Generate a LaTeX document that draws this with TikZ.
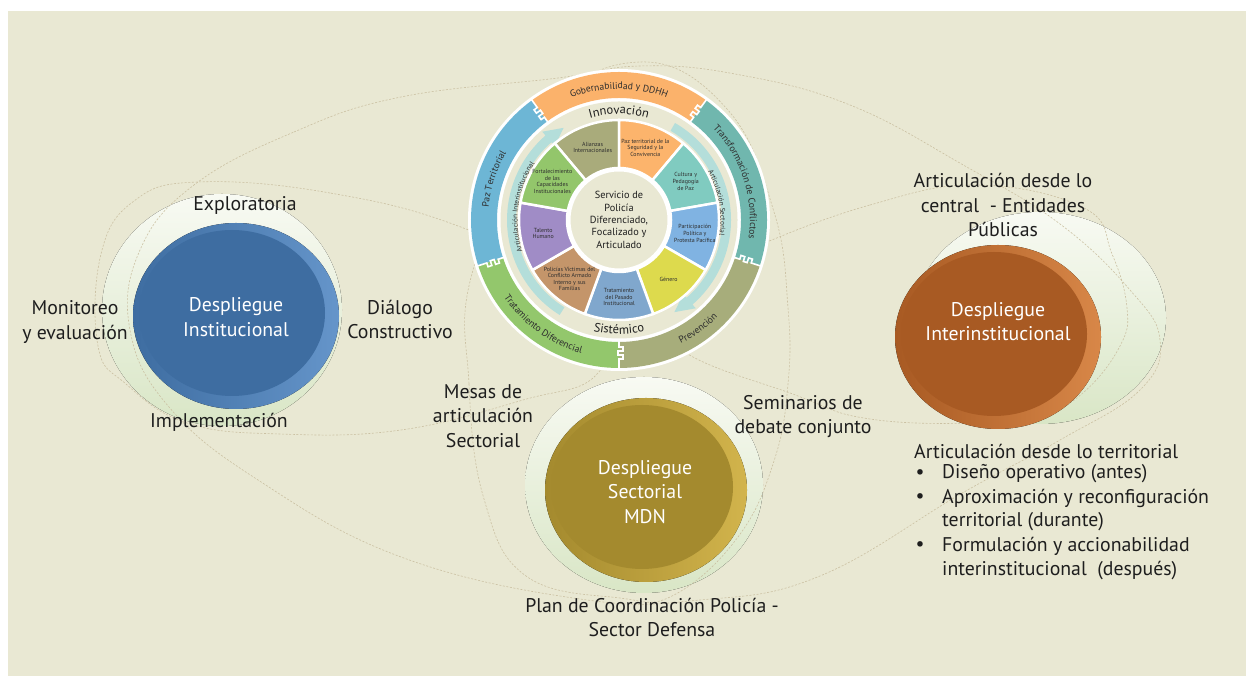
\documentclass[tikz,border=0pt]{standalone}
\usepackage{fontspec}
\setmainfont{PT Sans}
\usetikzlibrary{decorations.text,calc}
\definecolor{bg}{HTML}{E9E8D3}
\definecolor{dashc}{HTML}{CBC1A3}
\definecolor{txt}{HTML}{1E1E1E}
\definecolor{txtd}{HTML}{2E2E2E}
\definecolor{glowT}{HTML}{F8FAF3}
\definecolor{glowB}{HTML}{D9E6C6}
\definecolor{blueM}{HTML}{3E6DA1}
\definecolor{blueR}{HTML}{6595CA}
\definecolor{oraM}{HTML}{A85A23}
\definecolor{oraR}{HTML}{D88748}
\definecolor{golM}{HTML}{A48A2E}
\definecolor{golR}{HTML}{D2B44C}
\definecolor{gob}{HTML}{FBB26B}
\definecolor{trans}{HTML}{70B7AE}
\definecolor{prev}{HTML}{A7AD7B}
\definecolor{trat}{HTML}{93C76C}
\definecolor{pazT}{HTML}{6DB6D5}
\definecolor{arrowc}{HTML}{B4DEDA}
\definecolor{wAli}{HTML}{A9AB7B}
\definecolor{wPaz}{HTML}{FCB46C}
\definecolor{wCul}{HTML}{80CBC0}
\definecolor{wPar}{HTML}{80B3E2}
\definecolor{wGen}{HTML}{DDDA4D}
\definecolor{wTra}{HTML}{80A7CD}
\definecolor{wPol}{HTML}{C4956A}
\definecolor{wTal}{HTML}{A08CC6}
\definecolor{wFor}{HTML}{93C66B}
\newcommand\ringfont{\fontsize{9.6}{9.6}\selectfont\color{txtd}}
\newcommand\innfont{\fontsize{12.5}{12.5}\selectfont\color{txt}}
\newcommand\artfont{\fontsize{7.2}{7.2}\selectfont\color{txtd}}
\tikzset{
  dashline/.style={draw=dashc, line width=0.6pt, dash pattern=on 2pt off 1.6pt},
  glow/.style={top color=glowT, bottom color=glowB},
  lbl/.style={font=\fontsize{19.8}{24.5}\selectfont, text=txt, align=center, inner sep=0pt},
  llbl/.style={font=\fontsize{19.8}{24.5}\selectfont, text=txt, align=left, inner sep=0pt, anchor=west},
  wlbl/.style={font=\fontsize{19.8}{24.5}\selectfont, text=white, align=center, inner sep=0pt},
  wtxt/.style={font=\fontsize{5.9}{6.6}\selectfont, text=txtd, align=center, inner sep=0pt},
  ctxt/.style={font=\fontsize{10.3}{12.3}\selectfont, text=txt, align=center, inner sep=0pt},
  notch/.style={draw=white, line width=1.6pt},
}
\begin{document}
\begin{tikzpicture}[x=1pt,y=1pt]
\useasboundingbox (0,0) rectangle (1246,676);
\fill[white] (0,0) rectangle (1246,676);
\fill[bg] (8,0) rectangle (1246,665);

% glows
\fill[glow] (222,366) ellipse[x radius=120, y radius=116];
\fill[glow] (1040,358) ellipse[x radius=126, y radius=106];
\fill[glow] (644,191) ellipse[x radius=119, y radius=108];

% dashed curves
\draw[dashline] plot[smooth cycle, tension=0.7] coordinates {(466,447) (330,483) (198,494) (134,475) (101,422) (98,330) (126,292) (187,253) (280,242) (401,246) (523,276) (598,303) (610,376)};
\draw[dashline] plot[smooth cycle, tension=0.7] coordinates {(194,491) (294,544) (401,579) (558,598) (640,610) (735,602) (850,571) (965,510) (1060,452) (1130,386) (1160,336) (1140,286) (1060,236) (964,184) (820,100) (700,76) (580,77) (401,119) (258,196) (169,269) (130,346) (140,426)};
\draw[dashline] plot[smooth cycle, tension=0.7] coordinates {(473,406) (469,292) (484,177) (526,100) (620,78) (674,81) (738,139) (774,215) (788,292) (788,368) (774,464) (727,567) (640,614) (545,560)};
\draw[dashline] plot[smooth cycle, tension=0.7] coordinates {(755,429) (870,471) (977,491) (1084,468) (1112,422) (1127,368) (1120,330) (1084,284) (1041,261) (977,253) (870,257) (798,280) (673,334) (700,400)};

% colored disks
\fill[left color=blueM, right color=blueR] (236,360) ellipse[x radius=103, y radius=93];
\fill[blueM] (232,363) ellipse[x radius=93, y radius=83];
\fill[left color=oraM, right color=oraR] (998,339) ellipse[x radius=103, y radius=92];
\fill[oraM] (994,342) ellipse[x radius=93, y radius=82];
\fill[left color=golM, right color=golR] (646,186) ellipse[x radius=101, y radius=92];
\fill[golM] (642,189) ellipse[x radius=91, y radius=82];

\node[wlbl] (dinst) at (236,359) {Despliegue\\Institucional};
\node[wlbl] (dinter) at (998,354.5) {Despliegue\\Interinstitucional};
\node[wlbl] (dsect) at (645,184) {Despliegue\\Sectorial\\MDN};

% labels
\node[lbl] (explo) at (245,471) {Exploratoria};
\node[lbl] (monit) at (75,354) {Monitoreo\\y evaluación};
\node[lbl] (dialo) at (400,356.5) {Diálogo\\Constructivo};
\node[lbl] (imple) at (219,254) {Implementación};
\node[lbl] (mesas) at (483,260) {Mesas de\\articulación\\Sectorial};
\node[lbl] (semin) at (803,259.5) {Seminarios de\\debate conjunto};
\node[lbl] (plan) at (652,58.5) {Plan de Coordinación Policía -\\Sector Defensa};
\node[lbl] (centr) at (1003,471) {Articulación desde lo\\central\ \ - Entidades\\Públicas};
\node[llbl] (terr) at (914,225) {Articulación desde lo territorial};
\node[lbl] (b1) at (920,202) {•};
\node[lbl] (b2) at (920,178) {•};
\node[lbl] (b3) at (920,130) {•};
\node[llbl] (t1) at (942,202) {Diseño operativo (antes)};
\node[llbl] (t2) at (942,178) {Aproximación y reconfiguración};
\node[llbl] (t3) at (942,154) {territorial (durante)};
\node[llbl] (t4) at (942,130) {Formulación y accionabilidad};
\node[llbl] (t5) at (942,105) {interinstitucional\ \ (después)};

% wheel
\begin{scope}[shift={(619,456)}]
\fill[white] (0,0) circle[radius=151];
\foreach \a/\b/\c in {126/198/pazT, 54/126/gob, -18/54/trans, -90/-18/prev, -162/-90/trat}
  \fill[\c] (\a:122) arc[start angle=\a, end angle=\b, radius=122] -- (\b:148) arc[start angle=\b, end angle=\a, radius=148] -- cycle;
\foreach \t in {126,54,-18,-90,198}
  \draw[notch, rotate=\t] (121,0) -- (127,0) -- (127,4) -- (131,4) -- (131,-1) -- (135,-1) -- (135,4) -- (139,4) -- (139,0) -- (149,0);
\fill[bg] (0,0) circle[radius=118.5];
% arrows
\fill[arrowc] (238:112) arc[start angle=238, end angle=131, radius=112] -- (131:117) -- (121:107.5) -- (131:98) -- (131:103) arc[start angle=131, end angle=238, radius=103] -- cycle;
\fill[arrowc] (60:112) arc[start angle=60, end angle=-49, radius=112] -- (-49:117) -- (-59:107.5) -- (-49:98) -- (-49:103) arc[start angle=-49, end angle=60, radius=103] -- cycle;
% wedges
\foreach \s/\c in {90/wAli,50/wPaz,10/wCul,-30/wPar,-70/wGen,-110/wTra,-150/wPol,170/wTal,130/wFor}
  \filldraw[fill=\c, draw=white, line width=2.5pt] (\s:52) arc[start angle=\s, end angle=\s+40, radius=52] -- ({\s+40}:100) arc[start angle=\s+40, end angle=\s, radius=100] -- cycle;
\filldraw[fill=bg, draw=white, line width=3pt] (0,0) circle[radius=50];
\node[ctxt] (serv) at (0,0) {Servicio de\\Policía\\Diferenciado,\\Focalizado y\\Articulado};
\node[wtxt] (ali) at (110:77) {Alianzas\\Internacionales};
\node[wtxt] (paz) at (70:77) {Paz territorial de la\\Seguridad y la\\Convivencia};
\node[wtxt] (cul) at (30:77) {Cultura y\\Pedagogía\\de Paz};
\node[wtxt] (par) at (-10:77) {Participación\\Política y\\Protesta Pacífica};
\node[wtxt] (gen) at (-50:77) {Género};
\node[wtxt] (tra) at (-90:77) {Tratamiento\\del Pasado\\Institucional};
\node[wtxt] (pol) at (-130:77) {Policías Víctimas del\\Conflicto Armado\\Interno y sus\\Familias};
\node[wtxt] (tal) at (190:77) {Talento\\Humano};
\node[wtxt] (for) at (150:77) {Fortalecimiento\\de las\\Capacidades\\Institucionales};
% ring texts
\path[decorate, decoration={text along path, text align=center, text={|\ringfont|Gobernabilidad y DDHH}}] (126:131) arc[start angle=126, end angle=54, radius=131];
\path[decorate, decoration={text along path, text align=center, text={|\ringfont|Paz Territorial}}] (198:131) arc[start angle=198, end angle=126, radius=131];
\path[decorate, decoration={text along path, text align=center, text={|\ringfont|Transformación de Conflictos}}] (54:131) arc[start angle=54, end angle=-18, radius=131];
\path[decorate, decoration={text along path, text align=center, text={|\ringfont|Prevención}}] (-90:138.5) arc[start angle=-90, end angle=-18, radius=138.5];
\path[decorate, decoration={text along path, text align=center, text={|\ringfont|Tratamiento Diferencial}}] (198:138.5) arc[start angle=198, end angle=270, radius=138.5];
\path[decorate, decoration={text along path, text align=center, text={|\innfont|Innovación}}] (130:106) arc[start angle=130, end angle=50, radius=106];
\path[decorate, decoration={text along path, text align=center, text={|\innfont|Sistémico}}] (-130:114) arc[start angle=-130, end angle=-50, radius=114];
\path[decorate, decoration={text along path, text align=center, text={|\artfont|Articulación Interinstitucional}}] (242:101.5) arc[start angle=242, end angle=102, radius=101.5];
\path[decorate, decoration={text along path, text align=center, text={|\artfont|Articulación Sectorial}}] (70:101.5) arc[start angle=70, end angle=-50, radius=101.5];
\end{scope}
\end{tikzpicture}
\end{document}
